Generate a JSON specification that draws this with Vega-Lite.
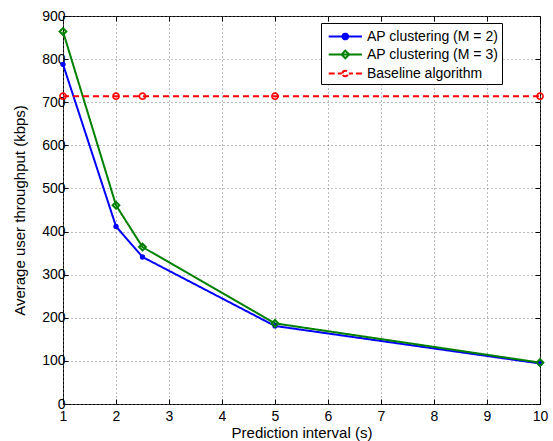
{
  "$schema": "https://vega.github.io/schema/vega-lite/v6.json",
  "width": 477,
  "height": 388,
  "autosize": "none",
  "padding": {"left": 63, "top": 16, "right": 13, "bottom": 37},
  "background": "white",
  "config": {
    "font": "Liberation Sans",
    "view": {"stroke": "black", "strokeWidth": 1},
    "axis": {
      "domain": false,
      "tickColor": "black",
      "tickSize": -5,
      "tickWidth": 1,
      "labelFont": "Liberation Sans",
      "labelFontSize": 14,
      "labelColor": "black",
      "labelFlush": false,
      "labelOverlap": false,
      "titleFont": "Liberation Sans",
      "titleFontSize": 15,
      "titleFontWeight": "normal",
      "titleColor": "black",
      "gridColor": "#777777",
      "gridDash": [1, 3],
      "gridOpacity": 1,
      "gridWidth": 1
    },
    "axisX": {"labelPadding": 10},
    "axisY": {"labelPadding": 3}
  },
  "data": {
    "values": [
      {"x": 1, "y": 788, "series": "AP clustering (M = 2)"},
      {"x": 2, "y": 412, "series": "AP clustering (M = 2)"},
      {"x": 2.5, "y": 341, "series": "AP clustering (M = 2)"},
      {"x": 5, "y": 181, "series": "AP clustering (M = 2)"},
      {"x": 10, "y": 94, "series": "AP clustering (M = 2)"},
      {"x": 1, "y": 864, "series": "AP clustering (M = 3)"},
      {"x": 2, "y": 461, "series": "AP clustering (M = 3)"},
      {"x": 2.5, "y": 364, "series": "AP clustering (M = 3)"},
      {"x": 5, "y": 187, "series": "AP clustering (M = 3)"},
      {"x": 10, "y": 96, "series": "AP clustering (M = 3)"},
      {"x": 1, "y": 714, "series": "Baseline algorithm"},
      {"x": 2, "y": 714, "series": "Baseline algorithm"},
      {"x": 2.5, "y": 714, "series": "Baseline algorithm"},
      {"x": 5, "y": 714, "series": "Baseline algorithm"},
      {"x": 10, "y": 714, "series": "Baseline algorithm"}
    ]
  },
  "resolve": {"axis": {"x": "independent", "y": "independent"}},
  "layer": [
    {
      "mark": {"type": "line", "strokeWidth": 2, "clip": false},
      "encoding": {
        "x": {
          "field": "x", "type": "quantitative",
          "scale": {"domain": [1, 10], "nice": false, "zero": false},
          "axis": {"values": [1, 2, 3, 4, 5, 6, 7, 8, 9, 10], "title": "Prediction interval (s)", "titlePadding": 2, "orient": "bottom"}
        },
        "y": {
          "field": "y", "type": "quantitative",
          "scale": {"domain": [0, 900], "nice": false},
          "axis": {"values": [0, 100, 200, 300, 400, 500, 600, 700, 800, 900], "title": "Average user throughput (kbps)", "titlePadding": 14, "orient": "left"}
        },
        "color": {
          "field": "series", "type": "nominal",
          "scale": {"domain": ["AP clustering (M = 2)", "AP clustering (M = 3)", "Baseline algorithm"], "range": ["#0000ff", "#008000", "#ff0000"]},
          "legend": {
            "title": null,
            "orient": "none",
            "legendX": 258,
            "legendY": 7,
            "fillColor": "white",
            "strokeColor": "black",
            "padding": 3,
            "rowPadding": 0,
            "labelFont": "Liberation Sans",
            "labelFontSize": 14,
            "labelColor": "black",
            "labelOffset": 22,
            "labelLimit": 300,
            "symbolSize": 361,
            "symbolStrokeWidth": 2,
            "encode": {
              "symbols": {
                "update": {
                  "shape": {"signal": "datum.value === 'AP clustering (M = 2)' ? 'M-0.61,0H2.89M0.84,0A0.3,0.3,0,1,1,1.44,0A0.3,0.3,0,1,1,0.84,0Z' : datum.value === 'AP clustering (M = 3)' ? 'M-0.61,0H2.89M1.14,-0.4L1.54,0L1.14,0.4L0.74,0Z' : 'M-0.61,0H0.02M0.34,0H0.76M1.52,0H1.94M2.26,0H2.89M0.84,0A0.3,0.3,0,1,1,1.44,0A0.3,0.3,0,1,1,0.84,0Z'"},
                  "fill": {"signal": "datum.value === 'AP clustering (M = 2)' ? '#0000ff' : 'transparent'"},
                  "strokeDash": {"value": []},
                  "opacity": {"value": 1}
                }
              }
            }
          }
        },
        "strokeDash": {
          "field": "series", "type": "nominal",
          "scale": {"domain": ["AP clustering (M = 2)", "AP clustering (M = 3)", "Baseline algorithm"], "range": [[1, 0], [1, 0], [6, 4]]},
          "legend": null
        }
      }
    },
    {
      "transform": [{"filter": "datum.series === 'AP clustering (M = 2)'"}],
      "mark": {"type": "point", "shape": "circle", "filled": true, "color": "#0000ff", "size": 28, "opacity": 1, "clip": false},
      "encoding": {
        "x": {"field": "x", "type": "quantitative", "axis": null},
        "y": {"field": "y", "type": "quantitative", "axis": null}
      }
    },
    {
      "transform": [{"filter": "datum.series === 'AP clustering (M = 3)'"}],
      "mark": {"type": "point", "shape": "diamond", "filled": false, "color": "#008000", "strokeWidth": 2, "size": 45, "opacity": 1, "clip": false},
      "encoding": {
        "x": {"field": "x", "type": "quantitative", "axis": null},
        "y": {"field": "y", "type": "quantitative", "axis": null}
      }
    },
    {
      "transform": [{"filter": "datum.series === 'Baseline algorithm'"}],
      "mark": {"type": "point", "shape": "circle", "filled": false, "color": "#ff0000", "strokeWidth": 1.6, "size": 38, "opacity": 1, "clip": false},
      "encoding": {
        "x": {
          "field": "x", "type": "quantitative",
          "axis": {"orient": "top", "values": [1, 2, 3, 4, 5, 6, 7, 8, 9, 10], "labels": false, "grid": false, "title": null}
        },
        "y": {
          "field": "y", "type": "quantitative",
          "axis": {"orient": "right", "values": [0, 100, 200, 300, 400, 500, 600, 700, 800, 900], "labels": false, "grid": false, "title": null}
        }
      }
    }
  ]
}
